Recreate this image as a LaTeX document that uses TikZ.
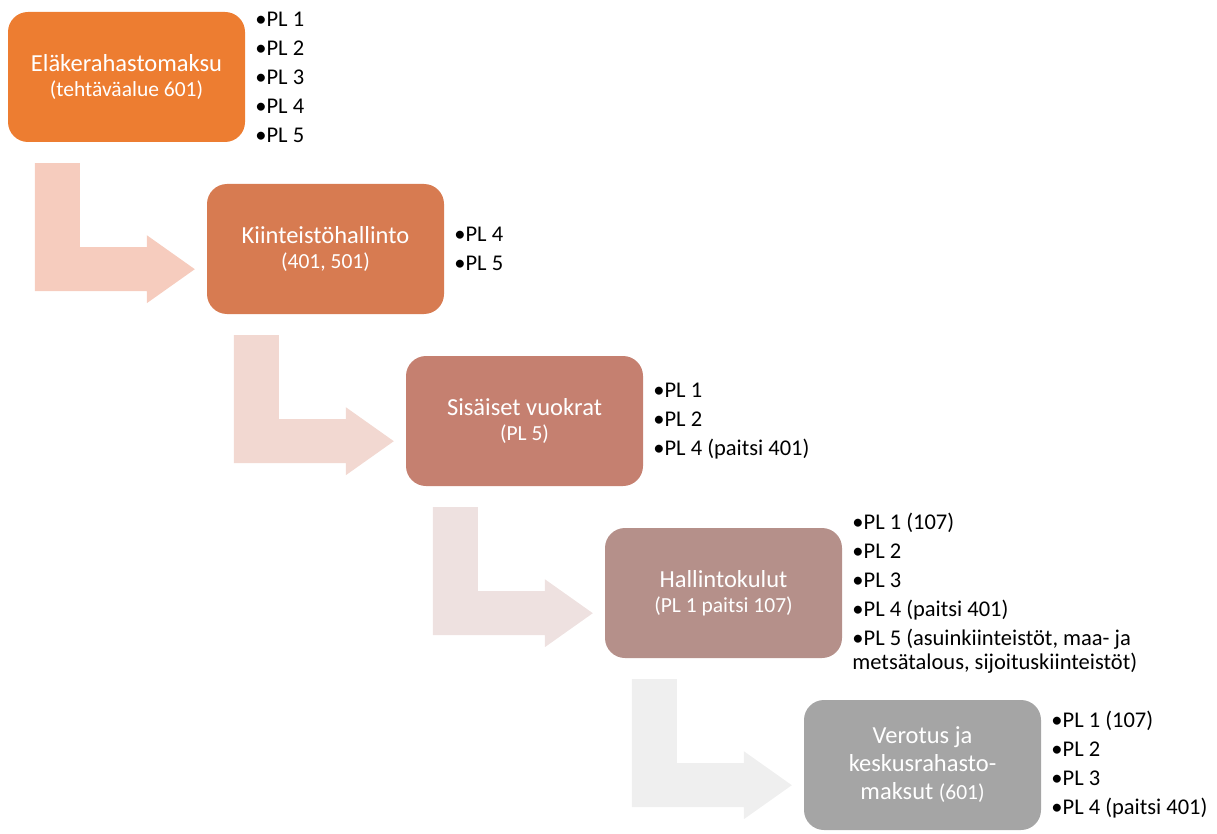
\documentclass[tikz,border=0pt]{standalone}
\usepackage{fontspec}
\setmainfont{Carlito}
\usetikzlibrary{positioning}
\definecolor{boxA}{HTML}{ED7D31}
\definecolor{boxB}{HTML}{D77B51}
\definecolor{boxC}{HTML}{C58070}
\definecolor{boxD}{HTML}{B5908A}
\definecolor{boxE}{HTML}{A5A5A5}
\definecolor{arrA}{HTML}{F6CCBE}
\definecolor{arrB}{HTML}{F2D8D1}
\definecolor{arrC}{HTML}{EEE1E0}
\definecolor{arrD}{HTML}{EFEFEF}
\newcommand\subt[1]{{\fontsize{21.5}{24}\selectfont #1}}
\begin{document}
\begin{tikzpicture}[x=1pt, y=-1pt,
        stepbox/.style = {fill=#1, rounded corners=20pt, minimum width=237pt, minimum height=130pt,
            text=white, align=center, inner sep=0pt, font=\fontsize{24.5}{28}\selectfont},
        items/.style = {align=left, inner sep=0pt, font=\fontsize{22.5}{24}\selectfont}]
                \useasboundingbox (0,0) rectangle (1217,834);

                \node[stepbox=boxA] at (126.5, 77) (b1) {Eläkerahastomaksu\\[-3pt]\subt{(tehtäväalue 601)}};
                \node[stepbox=boxB] at (325.5, 249) (b2) {Kiinteistöhallinto\\[-3pt]\subt{(401, 501)}};
                \node[stepbox=boxC] at (524.5, 421) (b3) {Sisäiset vuokrat\\[-3pt]\subt{(PL 5)}};
                \node[stepbox=boxD] at (723.5, 593) (b4) {Hallintokulut\\[-3pt]\subt{(PL 1 paitsi 107)}};
                \node[stepbox=boxE] at (922.5, 765) (b5) {Verotus ja\\keskusrahasto-\\maksut \subt{(601)}};

                \node[items, right=10pt of b1] (l1) {•PL 1\\[5pt]•PL 2\\[5pt]•PL 3\\[5pt]•PL 4\\[5pt]•PL 5};
                \node[items, right=10pt of b2] (l2) {•PL 4\\[5pt]•PL 5};
                \node[items, right=10pt of b3] (l3) {•PL 1\\[5pt]•PL 2\\[5pt]•PL 4 (paitsi 401)};
                \node[items, right=10pt of b4] (l4) {•PL 1 (107)\\[5pt]•PL 2\\[5pt]•PL 3\\[5pt]•PL 4 (paitsi 401)\\[5pt]•PL 5 (asuinkiinteistöt, maa- ja\\metsätalous, sijoituskiinteistöt)};
                \node[items, right=10pt of b5] (l5) {•PL 1 (107)\\[5pt]•PL 2\\[5pt]•PL 3\\[5pt]•PL 4 (paitsi 401)};

                % bent arrows from one step to the next
                \foreach \i/\c in {1/arrA, 2/arrB, 3/arrC, 4/arrD}
                    \fill[\c] ([shift={(27,21)}]b\i.south west) -- ++(45,0) -- ++(0,84) -- ++(67,0) -- ++(0,-12)
                        -- ++(48,34) -- ++(-48,34) -- ++(0,-12) -- ++(-112,0) -- cycle;
            \end{tikzpicture}
\end{document}
